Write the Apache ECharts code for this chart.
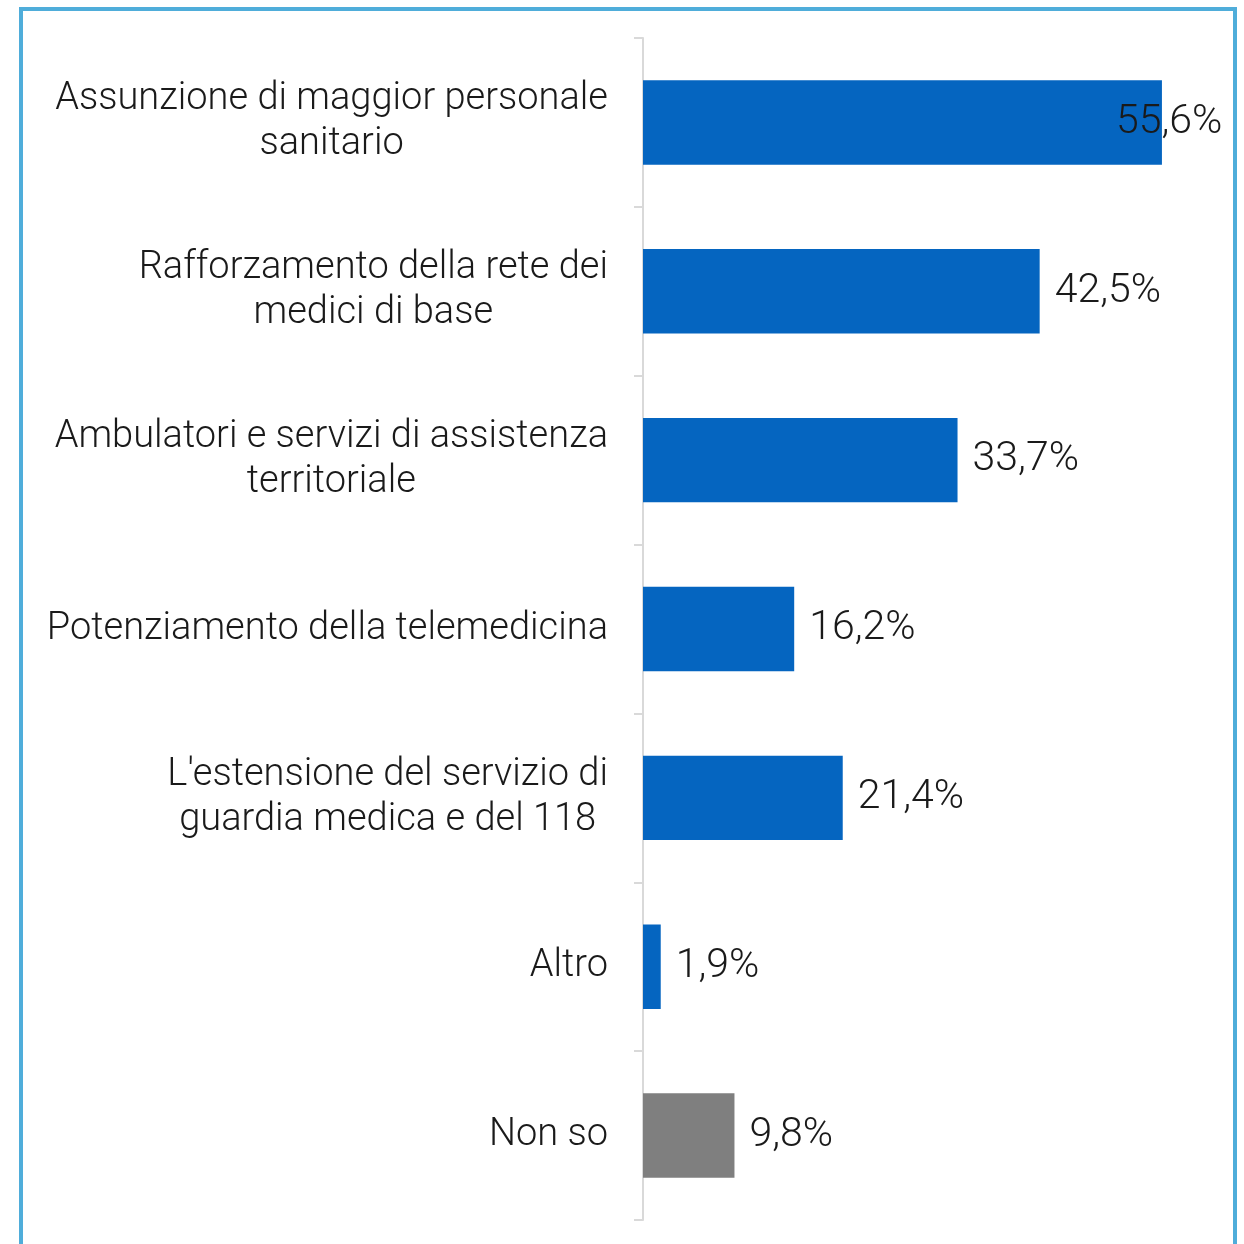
<!DOCTYPE html>
<html>
<head>
<meta charset="utf-8">
<script src="https://cdn.jsdelivr.net/npm/echarts@6/dist/echarts.min.js"></script>
<style>
  html, body { margin: 0; padding: 0; background: #fff; }
  #main { position: absolute; left: 0; top: 0; width: 1244px; height: 1244px; }
  .cornice { position: absolute; left: 19px; top: 7px; width: 1210px; height: 1260px;
    border: 4px solid #4fadda; pointer-events: none; }
</style>
</head>
<body>
<div id="main"></div>
<div class="cornice"></div>
<script>
  // categorie (dall'alto verso il basso)
  var categorie = [
    'Assunzione di maggior personale\nsanitario',
    'Rafforzamento della rete dei\nmedici di base',
    'Ambulatori e servizi di assistenza\nterritoriale',
    'Potenziamento della telemedicina',
    "L'estensione del servizio di\nguardia medica e del 118",
    'Altro',
    'Non so'
  ]
  var valori = [55.6, 42.5, 33.7, 16.2, 21.4, 1.9, 9.8]
  var colori = ['#0565c0', '#0565c0', '#0565c0', '#0565c0', '#0565c0', '#0565c0', '#7f7f7f']

  var FONT = 'Roboto'
  var chart = echarts.init(document.getElementById('main'), null, {renderer: 'canvas'})

  var dati = valori.map(function (v, i) {
    var item = { value: v, itemStyle: { color: colori[i] } }
    if (i == 0) {
      item.label = { offset: [-61, 0] } // etichetta spostata sopra la barra
    }
    return item
  })

  chart.setOption({
    backgroundColor: '#fff',
    animation: false,
    grid: { left: 643, right: 41, top: 38, bottom: 24, containLabel: false },
    xAxis: {
      type: 'value',
      min: 0,
      max: 60,
      show: false
    },
    yAxis: {
      type: 'category',
      inverse: true,
      data: categorie,
      axisLine: { show: true, lineStyle: { color: '#d9d9d9', width: 2 } },
      axisTick: { show: true, length: 9, lineStyle: { color: '#d9d9d9', width: 2 } },
      axisLabel: {
        margin: 35,
        color: '#1a1a1a',
        fontFamily: FONT,
        fontWeight: 300,
        fontSize: 38,
        lineHeight: 45,
        formatter: function (value) {
          // ogni riga centrata nel blocco
          return value.split('\n').map(function (r) { return '{c|' + r + '}' }).join('\n')
        },
        rich: {
          c: { align: 'center', color: '#1a1a1a', fontFamily: FONT, fontWeight: 300, fontSize: 38, lineHeight: 45 }
        }
      }
    },
    series: [{
      type: 'bar',
      data: dati,
      barWidth: '50%',
      label: {
        show: true,
        position: 'right',
        distance: 15,
        color: '#1a1a1a',
        fontFamily: FONT,
        fontWeight: 300,
        fontSize: 41,
        formatter: function (p) {
          return p.value.toFixed(1).replace('.', ',') + '%'
        }
      }
    }]
  })
</script>
</body>
</html>
